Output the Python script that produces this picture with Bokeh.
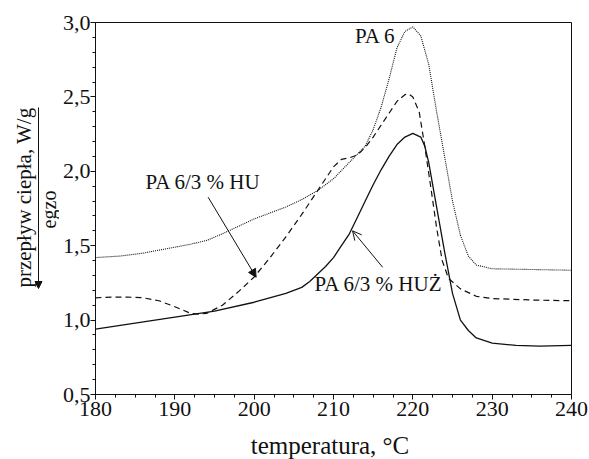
import math
from bokeh.plotting import figure
from bokeh.layouts import row, column
from bokeh.models import FixedTicker, Label, Arrow, NormalHead, OpenHead, Range1d
from bokeh.core.properties import value
from bokeh.embed import file_html
from bokeh.resources import INLINE

# PA 6 (dotted)
pa6_x = [180, 183, 186, 189, 192, 194, 196, 198, 200, 202, 204, 206, 208, 210, 212, 214, 215, 216, 217, 218,
         219, 220, 221, 222, 223, 224, 225, 226, 227, 228, 230, 235, 240]
pa6_y = [1.42, 1.43, 1.45, 1.48, 1.51, 1.535, 1.58, 1.63, 1.68, 1.72, 1.76, 1.81, 1.87, 1.95, 2.06, 2.17, 2.28,
         2.43, 2.62, 2.83, 2.94, 2.97, 2.91, 2.72, 2.40, 2.10, 1.80, 1.57, 1.43, 1.37, 1.345, 1.34, 1.335]

# PA 6/3 % HU (dashed)
hu_x = [180, 182, 184, 186, 188, 190, 192, 193, 194, 196, 198, 200, 202, 204, 206, 208, 210, 211, 212, 213, 214,
        215, 216, 217, 218, 219, 219.5, 220, 220.8, 221.5, 222.3, 223, 223.7, 224.5, 226, 228, 230, 235, 240]
hu_y = [1.15, 1.155, 1.155, 1.15, 1.13, 1.09, 1.045, 1.04, 1.045, 1.10, 1.19, 1.29, 1.42, 1.56, 1.71, 1.87, 2.03,
        2.08, 2.09, 2.11, 2.16, 2.23, 2.31, 2.39, 2.47, 2.515, 2.52, 2.50, 2.40, 2.17, 1.88, 1.62, 1.40, 1.28, 1.21,
        1.16, 1.145, 1.135, 1.13]

# PA 6/3 % HUZ (solid)
huz_x = [180, 185, 190, 195, 200, 204, 206, 207, 208, 209, 210, 211, 212, 213, 214, 215, 216, 217, 218, 219, 220,
         221, 221.5, 222, 223, 224, 225, 226, 227, 228, 230, 233, 236, 240]
huz_y = [0.94, 0.98, 1.02, 1.06, 1.12, 1.18, 1.22, 1.26, 1.31, 1.36, 1.42, 1.50, 1.58, 1.69, 1.80, 1.91, 2.01, 2.10,
         2.18, 2.23, 2.255, 2.23, 2.17, 2.06, 1.76, 1.46, 1.18, 1.00, 0.93, 0.88, 0.845, 0.83, 0.825, 0.83]

x_ticks = [180, 190, 200, 210, 220, 230, 240]
y_ticks = [0.5, 1.0, 1.5, 2.0, 2.5, 3.0]
y_tick_labels = ["0,5", "1,0", "1,5", "2,0", "2,5", "3,0"]

FONT = "Liberation Serif"
FS = "21px"
INK = "#111111"
W, H = 589, 459
LW = 59                 # width of left strip
F_L, F_R, F_T, F_B = 94, 571, 22, 394   # frame edges in page pixels
MAIN_H = 428            # height of main chart (x label strip below it)

# ---- left strip: y label and exo arrow; coordinates are page pixels (y measured up from bottom) ----
side = figure(width=LW, height=H, output_backend="svg", toolbar_location=None,
              x_range=Range1d(0, LW), y_range=Range1d(H - F_B, H - F_T),
              min_border_left=0, min_border_right=0, min_border_top=F_T, min_border_bottom=H - F_B)
side.axis.visible = False
side.grid.visible = False
side.outline_line_color = None
side.text(x=[23], y=[H - 197], text=["przepływ ciepła, W/g"], angle=math.pi / 2, text_align="center",
          text_baseline="middle", text_font=value(FONT), text_font_size=FS, text_color=INK)
side.text(x=[48], y=[H - 209], text=["egzo"], angle=math.pi / 2, text_align="center",
          text_baseline="middle", text_font=value(FONT), text_font_size="20px", text_color=INK)
side.add_layout(Arrow(x_start=38, y_start=H - 107, x_end=38, y_end=H - 288, line_color=INK, line_width=1,
                      end=NormalHead(size=7, fill_color=INK, line_color=INK)))

# ---- main chart ----
p = figure(width=W - LW, height=MAIN_H, output_backend="svg", toolbar_location=None,
           x_range=Range1d(180, 240), y_range=Range1d(0.5, 3.0),
           min_border_left=F_L - LW, min_border_right=W - F_R, min_border_top=F_T,
           min_border_bottom=MAIN_H - F_B)
p.grid.visible = False
p.outline_line_color = INK
p.outline_line_width = 1

p.xaxis.ticker = FixedTicker(ticks=x_ticks, minor_ticks=[180 + 2.5 * i for i in range(25)])
p.yaxis.ticker = FixedTicker(ticks=y_ticks, minor_ticks=[round(0.5 + 0.1 * i, 2) for i in range(26)])
p.yaxis.major_label_overrides = {t: l for t, l in zip(y_ticks, y_tick_labels)}
for ax in (p.xaxis[0], p.yaxis[0]):
    ax.axis_line_color = INK
    ax.major_tick_line_color = INK
    ax.minor_tick_line_color = INK
    ax.major_tick_in = 0
    ax.major_tick_out = 5
    ax.minor_tick_in = 0
    ax.minor_tick_out = 3
    ax.major_label_text_font = FONT
    ax.major_label_text_font_size = "22px"
    ax.major_label_text_color = INK
p.yaxis.major_label_standoff = 0
p.xaxis.major_label_standoff = 2

p.line(pa6_x, pa6_y, line_color=INK, line_width=1.1, line_dash="1 1")
p.line(hu_x, hu_y, line_color=INK, line_width=1.2, line_dash="6 4")
p.line(huz_x, huz_y, line_color=INK, line_width=1.3)

# annotations
p.add_layout(Label(x=212.7, y=2.83, text="PA 6", text_font=FONT, text_font_size=FS, text_color=INK))
p.add_layout(Label(x=186.3, y=1.85, text="PA 6/3 % HU", text_font=FONT, text_font_size=FS, text_color=INK))
p.add_layout(Label(x=207.6, y=1.165, text="PA 6/3 % HUŻ", text_font=FONT, text_font_size=FS, text_color=INK))
p.add_layout(Arrow(x_start=194.2, y_start=1.826, x_end=200.25, y_end=1.288, line_color=INK, line_width=1,
                   end=NormalHead(size=8, fill_color=INK, line_color=INK)))
p.add_layout(Arrow(x_start=216.2, y_start=1.355, x_end=212.4, y_end=1.60, line_color=INK, line_width=1,
                   end=OpenHead(size=9, line_color=INK, line_width=1)))

# ---- x axis title strip (page pixel coordinates) ----
XH = H - MAIN_H
xlab = figure(width=W - LW, height=XH, output_backend="svg", toolbar_location=None,
              x_range=Range1d(F_L, F_R), y_range=Range1d(0, XH),
              min_border_left=F_L - LW, min_border_right=W - F_R, min_border_top=0, min_border_bottom=0)
xlab.axis.visible = False
xlab.grid.visible = False
xlab.outline_line_color = None
xlab.text(x=[329], y=[H - 445], text=["temperatura, °C"], text_align="center",
          text_baseline="middle", text_font=value(FONT), text_font_size="25px", text_color=INK)

layout = row(side, column(p, xlab, spacing=0), spacing=0)
open("out.html", "w").write(file_html(layout, INLINE))
